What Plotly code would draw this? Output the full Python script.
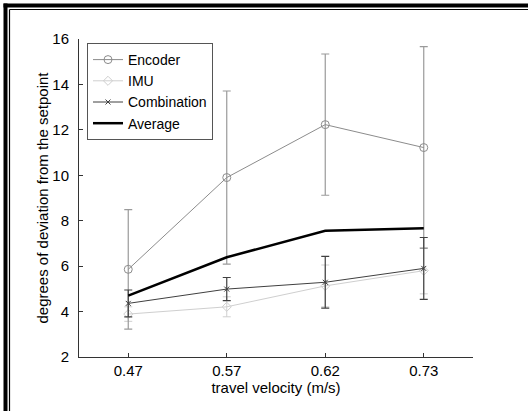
import plotly.graph_objects as go

velocities = ["0.47", "0.57", "0.62", "0.73"]
encoder = [5.86, 9.90, 12.23, 11.22]
encoder_err = [2.63, 3.81, 3.11, 4.44]
imu = [3.89, 4.21, 5.13, 5.80]
imu_err = [0.32, 0.44, 0.92, 1.02]
combination = [4.36, 4.99, 5.29, 5.90]
combination_err = [0.59, 0.51, 1.14, 1.36]
average = [4.70, 6.39, 7.56, 7.67]

xpos = [1, 2, 3, 4]

fig = go.Figure()

fig.add_trace(go.Scatter(
    x=xpos, y=imu, name="IMU", mode="lines+markers",
    line=dict(color="#cfcfcf", width=1),
    marker=dict(symbol="diamond-open", size=7, color="#cfcfcf"),
    error_y=dict(type="data", array=imu_err, color="#cfcfcf", thickness=1, width=4),
    legendrank=2,
))
fig.add_trace(go.Scatter(
    x=xpos, y=encoder, name="Encoder", mode="lines+markers",
    line=dict(color="#8c8c8c", width=1),
    marker=dict(symbol="circle-open", size=8, color="#8c8c8c"),
    error_y=dict(type="data", array=encoder_err, color="#9a9a9a", thickness=1.2, width=4),
    legendrank=1,
))
fig.add_trace(go.Scatter(
    x=xpos, y=combination, name="Combination", mode="lines+markers",
    line=dict(color="#404040", width=1),
    marker=dict(symbol="x-thin-open", size=5, color="#404040", line=dict(width=1, color="#404040")),
    error_y=dict(type="data", array=combination_err, color="#404040", thickness=1.2, width=4),
    legendrank=3,
))
fig.add_trace(go.Scatter(
    x=xpos, y=average, name="Average", mode="lines",
    line=dict(color="#000000", width=2.5),
    legendrank=4,
))

L, R, T, B = 79, 473, 39, 357
W, H = 528, 411

def px(x):
    return (x - L) / (R - L)

def py(y):
    return (B - y) / (B - T)

shapes = [
    dict(type="rect", xref="paper", yref="paper", x0=px(3.5), x1=px(7.5), y0=py(H), y1=py(3.5),
         fillcolor="black", line=dict(width=0), layer="above"),
    dict(type="rect", xref="paper", yref="paper", x0=px(3.5), x1=px(W), y0=py(7.5), y1=py(3.5),
         fillcolor="black", line=dict(width=0), layer="above"),
    dict(type="line", xref="paper", yref="paper", x0=px(9.5), x1=px(9.5), y0=py(H), y1=py(9.5),
         line=dict(color="black", width=1.2), layer="above"),
    dict(type="line", xref="paper", yref="paper", x0=px(9.5), x1=px(W), y0=py(9.5), y1=py(9.5),
         line=dict(color="black", width=1.2), layer="above"),
]

fig.update_layout(
    width=W, height=H,
    margin=dict(l=L, r=W - R, t=T, b=H - B, pad=0),
    paper_bgcolor="white", plot_bgcolor="white",
    font=dict(family="Liberation Sans, Arial, sans-serif", color="black", size=15),
    showlegend=True,
    hovermode=False,
    legend=dict(
        x=px(87), y=py(43), xanchor="left", yanchor="top",
        bgcolor="white", bordercolor="#555555", borderwidth=1,
        font=dict(size=14), traceorder="normal",
        itemwidth=30, tracegroupgap=0,
    ),
    shapes=shapes,
    xaxis=dict(
        range=[0.5, 4.5], tickmode="array", tickvals=xpos, ticktext=velocities,
        showgrid=False, zeroline=False, showline=True, linecolor="#333333", linewidth=1,
        ticks="inside", ticklen=4, tickcolor="#333333",
        title=dict(text="travel velocity (m/s)", font=dict(size=15), standoff=4),
        tickfont=dict(size=15),
    ),
    yaxis=dict(
        range=[2, 16], tickvals=[2, 4, 6, 8, 10, 12, 14, 16],
        showgrid=False, zeroline=False, showline=True, linecolor="#333333", linewidth=1,
        ticks="inside", ticklen=4, tickcolor="#333333", ticklabelstandoff=6,
        title=dict(text="degrees of deviation from the setpoint", font=dict(size=15), standoff=0),
        tickfont=dict(size=15),
    ),
)

fig.write_html(
    "out.html",
    config={"displayModeBar": False, "staticPlot": True},
    post_script="document.body.style.margin='0';document.body.style.overflow='hidden';document.documentElement.style.overflow='hidden';",
)
